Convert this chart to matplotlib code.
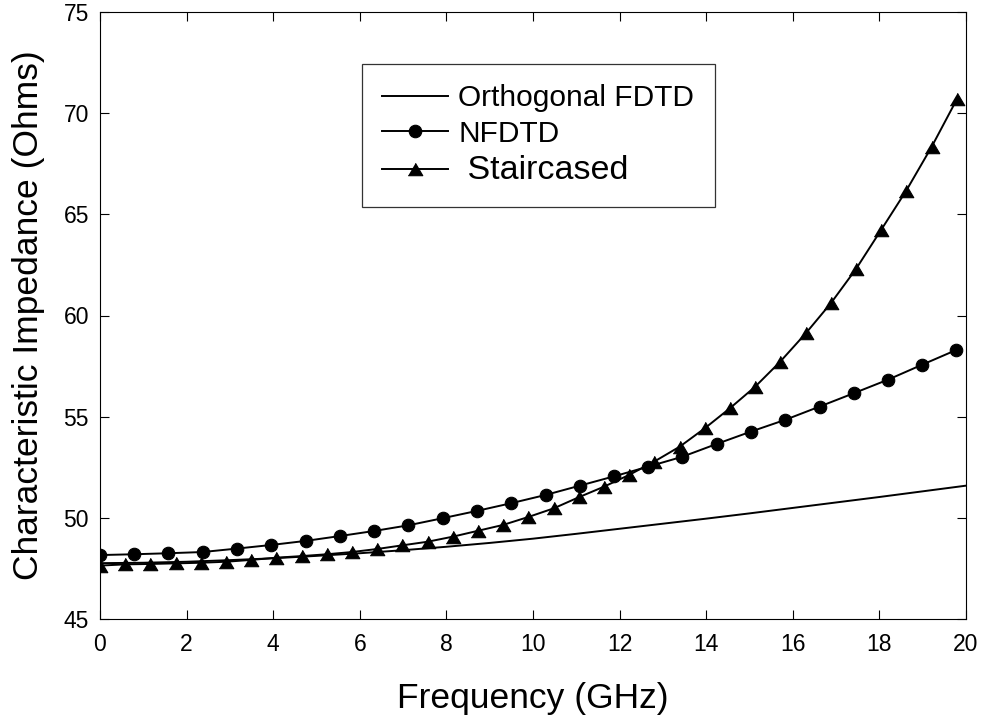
import matplotlib
matplotlib.use("Agg")
import matplotlib.pyplot as plt

plt.rcParams["font.family"] = ["Liberation Sans", "DejaVu Sans"]

# ── Data ─────────────────────────────────────────────────────────────────────
freq_ortho = [0, 1, 2, 3, 4, 5, 6, 7, 8, 9, 10, 11, 12, 13, 14, 15, 16, 17, 18, 19, 20]
z_ortho = [47.76, 47.78, 47.83, 47.91, 48.00, 48.12, 48.25, 48.40, 48.57, 48.76,
           48.97, 49.21, 49.46, 49.71, 49.96, 50.22, 50.49, 50.76, 51.03, 51.31, 51.59]

freq_nfdtd = [0, 0.79, 1.58, 2.37, 3.16, 3.96, 4.75, 5.54, 6.33, 7.12, 7.91, 8.70,
              9.49, 10.29, 11.08, 11.87, 12.66, 13.45, 14.24, 15.03, 15.82, 16.62,
              17.41, 18.20, 18.99, 19.78]
z_nfdtd = [48.16, 48.20, 48.25, 48.31, 48.48, 48.66, 48.86, 49.10, 49.35, 49.63,
           49.98, 50.34, 50.72, 51.13, 51.59, 52.05, 52.53, 53.02, 53.65, 54.26,
           54.84, 55.50, 56.16, 56.83, 57.57, 58.30]

freq_stair = [0, 0.58, 1.16, 1.75, 2.33, 2.91, 3.49, 4.07, 4.66, 5.24, 5.82, 6.40,
              6.98, 7.57, 8.15, 8.73, 9.31, 9.89, 10.48, 11.06, 11.64, 12.22, 12.80,
              13.39, 13.97, 14.55, 15.13, 15.71, 16.30, 16.88, 17.46, 18.04, 18.62,
              19.21, 19.79]
z_stair = [47.64, 47.70, 47.72, 47.75, 47.78, 47.83, 47.92, 48.03, 48.11, 48.20,
           48.31, 48.46, 48.64, 48.82, 49.07, 49.36, 49.65, 50.04, 50.47, 51.02,
           51.54, 52.12, 52.78, 53.52, 54.43, 55.42, 56.48, 57.72, 59.12, 60.61,
           62.30, 64.23, 66.17, 68.35, 70.69]

x_ticks = [0, 2, 4, 6, 8, 10, 12, 14, 16, 18, 20]
y_ticks = [45, 50, 55, 60, 65, 70, 75]

# flattened triangle marker
tri = [(-1, -0.85), (1, -0.85), (0, 0.85)]

# ── Figure ───────────────────────────────────────────────────────────────────
fig = plt.figure(figsize=(9.84, 7.21), dpi=100)
ax = fig.add_axes([100 / 984, 1 - 619 / 721, 866 / 984, 607 / 721])

ax.plot(freq_ortho, z_ortho, color="black", lw=1.4, label="Orthogonal FDTD")
ax.plot(freq_nfdtd, z_nfdtd, color="black", lw=1.4, marker="o", ms=9,
        mew=0.8, label="NFDTD")
ax.plot(freq_stair, z_stair, color="black", lw=1.4, marker=tri, ms=10.5,
        mew=0.8, label=" Staircased")

ax.set_xlim(0, 20)
ax.set_ylim(45, 75)
ax.set_xticks(x_ticks)
ax.set_yticks(y_ticks)
ax.tick_params(direction="in", length=6.5, width=0.8, labelsize=16.5,
               top=True, right=True)
ax.tick_params(axis="x", pad=10)
ax.tick_params(axis="y", pad=8)
for s in ax.spines.values():
    s.set_linewidth(0.8)

ax.set_xlabel("Frequency (GHz)", fontsize=25.5, labelpad=19)
ax.set_ylabel("Characteristic Impedance (Ohms)", fontsize=25.5, labelpad=13)

leg = ax.legend(loc="upper left", bbox_to_anchor=(362 / 984, 1 - 64 / 721),
                bbox_transform=fig.transFigure, borderaxespad=0,
                fontsize=21.5, frameon=True, fancybox=False, framealpha=1,
                edgecolor="#333333", borderpad=0.68, handlelength=2.2,
                handletextpad=0.35, labelspacing=0.25, markerscale=1.0)
leg.get_frame().set_linewidth(0.9)
leg.get_texts()[2].set_fontsize(24.5)

fig.savefig("out.png", dpi=100, facecolor="white")
